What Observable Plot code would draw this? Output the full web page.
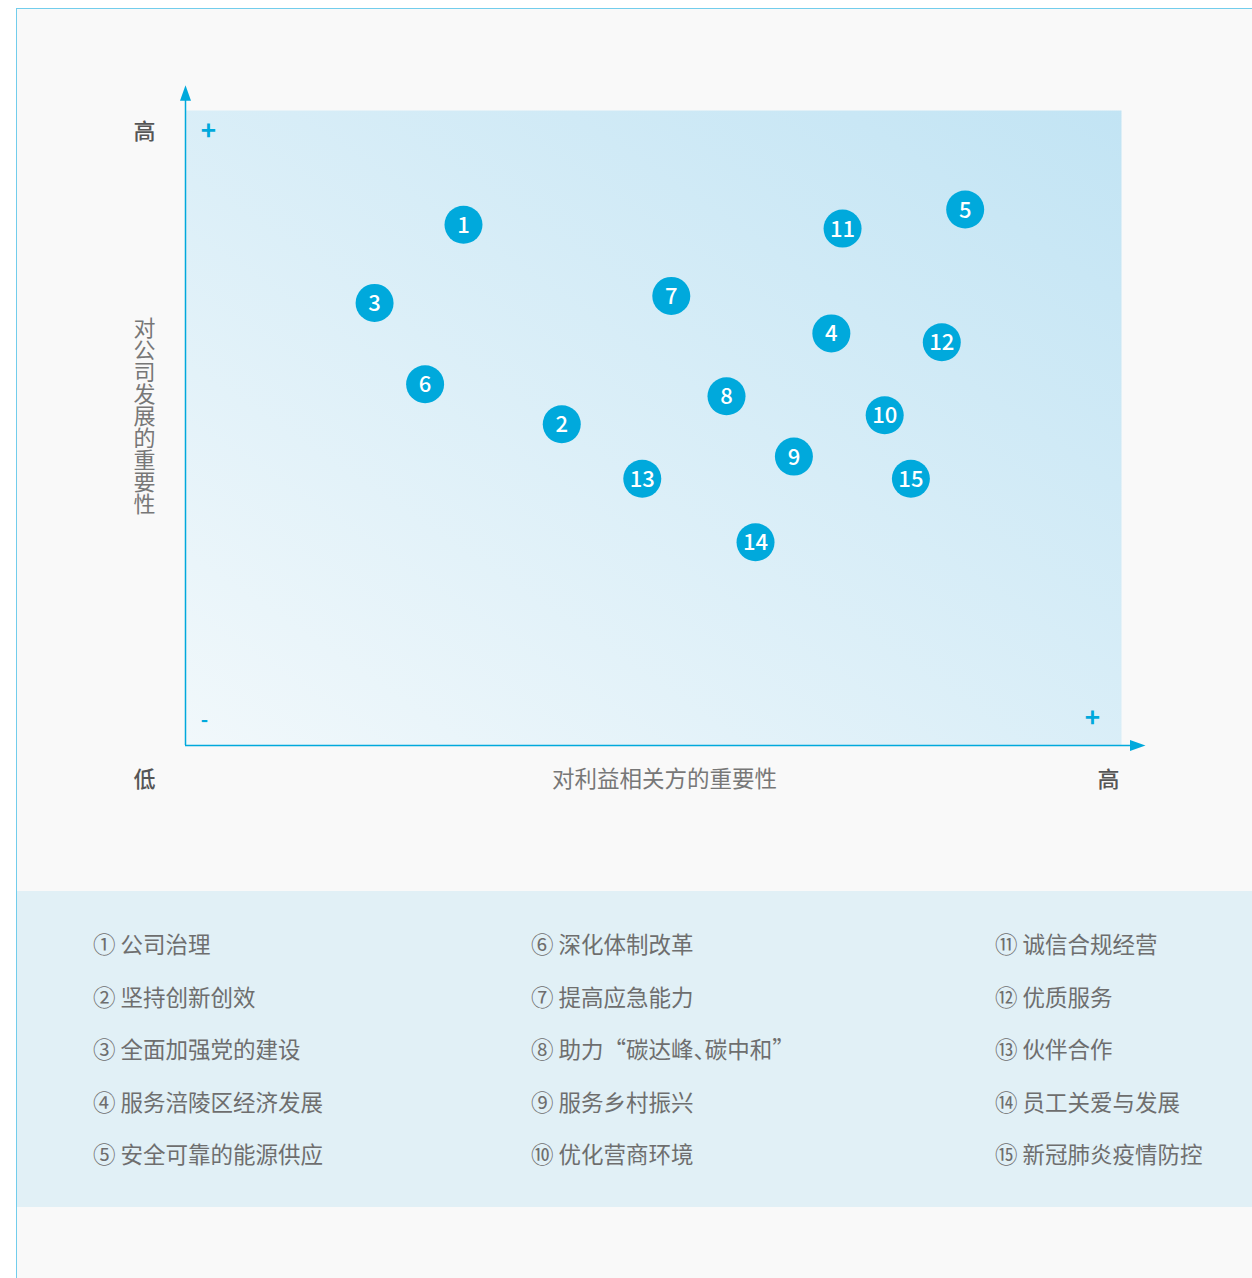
<!DOCTYPE html>
<html>
<head>
<meta charset="utf-8">
<script src="https://cdn.jsdelivr.net/npm/d3@7"></script>
<script src="https://cdn.jsdelivr.net/npm/@observablehq/plot@0.6"></script>
<style>
  html, body { margin: 0; padding: 0; background: #ffffff; overflow: hidden; width: 1252px; height: 1278px; }
  #frame { position: absolute; left: 16px; top: 8px; width: 1250px; height: 1290px;
           border-left: 1px solid #72cdec; border-top: 1px solid #72cdec; background: #f9f9f9; }
  #chart { position: absolute; left: 0; top: 0; }
  #legend { position: absolute; left: 17px; top: 891px; width: 1235px; height: 316px; background: #e1f0f6;
            font-family: "Noto Sans CJK SC", "Noto Sans", sans-serif; font-size: 22.5px; color: #6e6e6e; }
  .item { position: absolute; height: 32px; line-height: 32px; white-space: nowrap; }
  .half { font-feature-settings: "halt"; }
</style>
</head>
<body>
<div id="frame"></div>
<div id="chart"></div>
<div id="legend"></div>
<script>
// ---------- data ----------
const ids = [1, 2, 3, 4, 5, 6, 7, 8, 9, 10, 11, 12, 13, 14, 15];
// importance to stakeholders (x, 0-100) and to company development (y, 0-100)
const stakeholderImportance = [29.7, 40.2, 20.2, 69.0, 83.3, 25.6, 51.9, 57.8, 65.0, 74.7, 70.2, 80.8, 48.8, 60.9, 77.5];
const companyImportance     = [82.0, 50.6, 69.7, 64.9, 84.4, 56.9, 70.8, 55.0, 45.5, 52.0, 81.4, 63.5, 42.0, 32.0, 42.0];
const topicNames = [
  "公司治理", "坚持创新创效", "全面加强党的建设", "服务涪陵区经济发展", "安全可靠的能源供应",
  "深化体制改革", "提高应急能力", "助力“碳达峰、碳中和”", "服务乡村振兴", "优化营商环境",
  "诚信合规经营", "优质服务", "伙伴合作", "员工关爱与发展", "新冠肺炎疫情防控"
];
const circledNumbers = ["①","②","③","④","⑤","⑥","⑦","⑧","⑨","⑩","⑪","⑫","⑬","⑭","⑮"];
const xTitle = "对利益相关方的重要性";
const yTitle = "对公司发展的重要性";
const lowLabel = "低";
const highLabel = "高";

// ---------- chart ----------
const points = ids.map((id, i) => ({id, x: stakeholderImportance[i], y: companyImportance[i]}));
const blue = "#00a9dc";
const font = "'Noto Sans CJK SC', 'Noto Sans', sans-serif";

const xAxisEnd = 100.96;  // arrow base just past the plotting area
const yAxisEnd = 101.6;

const arrowUp = {draw(ctx) { ctx.moveTo(0, -15); ctx.lineTo(5.5, 0.5); ctx.lineTo(-5.5, 0.5); ctx.closePath(); }};
const arrowRight = {draw(ctx) { ctx.moveTo(15, 0); ctx.lineTo(-0.5, 5.5); ctx.lineTo(-0.5, -5.5); ctx.closePath(); }};

const endLabel = {textAnchor: "middle", lineAnchor: "middle", fill: "#555", fontSize: 22, fontWeight: 500};
const sign = {textAnchor: "middle", lineAnchor: "middle", fill: blue, fontWeight: "bold"};

const chart = Plot.plot({
  width: 1252,
  height: 891,
  marginLeft: 185,
  marginRight: 131,
  marginTop: 110,
  marginBottom: 146,
  x: {domain: [0, 100], axis: null},
  y: {domain: [0, 100], axis: null},
  style: {background: "transparent", fontFamily: font, overflow: "visible"},
  marks: [
    Plot.frame({fill: "url(#bgGrad)", stroke: "none"}),
    Plot.ruleX([0], {y1: 0, y2: yAxisEnd, stroke: blue, strokeWidth: 1.5}),
    Plot.ruleY([0], {x1: 0, x2: xAxisEnd, stroke: blue, strokeWidth: 1.5}),
    Plot.dot([{x: 0, y: yAxisEnd}], {x: "x", y: "y", symbol: arrowUp, fill: blue, stroke: "none"}),
    Plot.dot([{x: xAxisEnd, y: 0}], {x: "x", y: "y", symbol: arrowRight, fill: blue, stroke: "none"}),
    // corner signs
    Plot.text(["+"], {...sign, frameAnchor: "top-left", dx: 23, dy: 21, fontSize: 26}),
    Plot.text(["-"], {...sign, frameAnchor: "bottom-left", dx: 19, dy: -25, fontSize: 20}),
    Plot.text(["+"], {...sign, frameAnchor: "bottom-right", dx: -29, dy: -27, fontSize: 26}),
    // axis end labels
    Plot.text([highLabel], {...endLabel, frameAnchor: "top-left", dx: -41, dy: 21}),
    Plot.text([lowLabel], {...endLabel, frameAnchor: "bottom-left", dx: -41, dy: 34}),
    Plot.text([highLabel], {...endLabel, frameAnchor: "bottom-right", dx: -13, dy: 34}),
    // axis titles
    Plot.text([xTitle], {frameAnchor: "bottom", dx: 11, dy: 34, textAnchor: "middle", lineAnchor: "middle", fill: "#777", fontSize: 22.5}),
    Plot.text([yTitle], {className: "ytitle", frameAnchor: "left", dx: -41, dy: -19, textAnchor: "middle", fill: "#777", fontSize: 22}),
    // topics
    Plot.dot(points, {x: "x", y: "y", r: 19, fill: blue, stroke: "none"}),
    Plot.text(points, {x: "x", y: "y", text: d => String(d.id), fill: "white", fontSize: 22, fontWeight: 500, dy: 1})
  ]
});

// vertical (upright) writing for the y-axis title
d3.select(chart).selectAll(".ytitle text")
  .attr("dy", null)
  .style("writing-mode", "vertical-rl")
  .style("text-orientation", "upright")
  .style("dominant-baseline", "central");

// gradient definition for the plotting area
const defs = d3.select(chart).insert("defs", ":first-child");
const grad = defs.append("linearGradient").attr("id", "bgGrad")
  .attr("x1", "0").attr("y1", "1").attr("x2", "1").attr("y2", "0");
grad.append("stop").attr("offset", "0").attr("stop-color", "#f1f8fb");
grad.append("stop").attr("offset", "1").attr("stop-color", "#c2e4f4");

document.getElementById("chart").appendChild(chart);

// ---------- legend ----------
const legend = document.getElementById("legend");
const colX = [76, 514, 978];
const rowY = [52, 105, 157, 210, 262];
topicNames.forEach((name, i) => {
  const col = Math.floor(i / 5), row = i % 5;
  const el = document.createElement("div");
  el.className = "item";
  el.style.left = colX[col] + "px";
  el.style.top = (rowY[row] - 16) + "px";
  el.appendChild(document.createTextNode(circledNumbers[i] + " "));
  // the enumeration comma is set half-width, as in the original
  name.split("、").forEach((part, k) => {
    if (k > 0) {
      const s = document.createElement("span");
      s.className = "half";
      s.textContent = "、";
      el.appendChild(s);
    }
    el.appendChild(document.createTextNode(part));
  });
  legend.appendChild(el);
});
</script>
</body>
</html>
